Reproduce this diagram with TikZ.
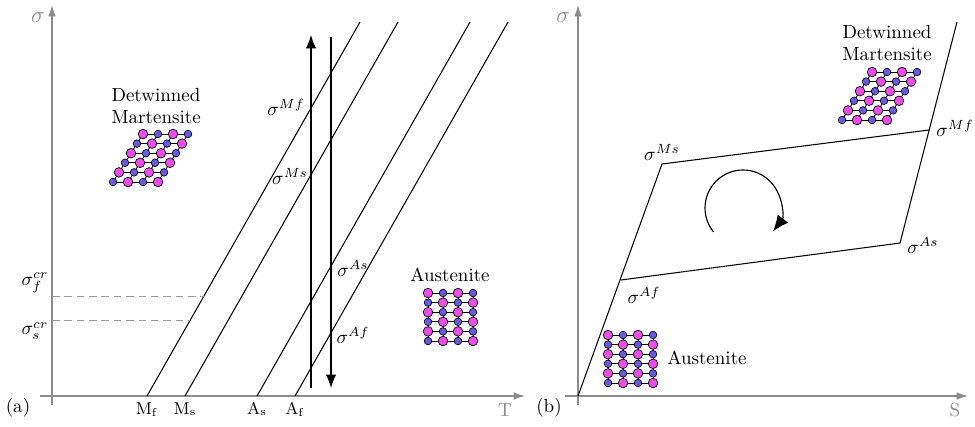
\documentclass[tikz,border=0pt]{standalone}
\usepackage{amsmath}
\usepackage{xcolor}
\definecolor{axisgray}{HTML}{8C8C8C}
\definecolor{crgray}{HTML}{999999}
\definecolor{atommag}{HTML}{E94FE6}
\definecolor{atomblue}{HTML}{6A5AE0}
\usepackage{tikz}
\usetikzlibrary{arrows.meta}
\tikzset{
  % 6x4 lattice of atoms, #1 = horizontal shift per row
  pics/lattice/.style={code={
    \foreach \j in {0,...,5} {
      \draw[bond] ({-#1*\j}, {9.6*\j}) -- ({45-#1*\j}, {9.6*\j});
    }
    \foreach \i in {0,...,3} {
      \draw[bond] ({15*\i}, 0) -- ({15*\i-5*#1}, 48);
    }
    \foreach \i in {0,...,3} {
      \foreach \j in {0,...,5} {
        \pgfmathtruncatemacro\pty{mod(\i+\j,2)}
        \ifnum\pty=0
          \filldraw[magatom] ({15*\i-#1*\j}, {9.6*\j}) circle (4.8);
        \else
          \filldraw[blueatom] ({15*\i-#1*\j}, {9.6*\j}) circle (3.8);
        \fi
      }
    }
  }}
}

\begin{document}
\begin{tikzpicture}[
  x=0.526pt, y=-0.526pt,
  axis/.style={-{Latex[length=6pt, width=4pt]}, axisgray, line width=0.55pt},
  axlabel/.style={text=axisgray},
  phase/.style={black, line width=0.55pt},
  crline/.style={crgray, dashed, line width=0.5pt, dash pattern=on 4pt off 2.5pt},
  load/.style={-{Latex[length=7pt, width=5.5pt]}, black, line width=0.75pt},
  bond/.style={black, line width=0.45pt},
  magatom/.style={fill=atommag, draw=black, line width=0.35pt},
  blueatom/.style={fill=atomblue, draw=black, line width=0.35pt},
  tick/.style={font=\small, anchor=base},
  every node/.style={inner sep=1pt}
]
\useasboundingbox (0,0) rectangle (975,426);

% ---------------- (a) stress--temperature ----------------
\coordinate (Ta0) at (40,396);
\coordinate (Ta1) at (525,396);
\coordinate (Sa0) at (52,405);
\coordinate (Sa1) at (52,5);
\draw[axis] (Ta0) -- (Ta1);
\draw[axis] (Sa0) -- (Sa1);
\node[axlabel, font=\large] (sigA) at (38,18) {$\sigma$};
\node[axlabel] (tempA) at (505,410) {T};
\node (capA) at (18,408) {(a)};

% transformation lines, all parallel
\foreach \xb/\nm/\lbl in {147/Mf/{M_f}, 185/Ms/{M_s}, 257/As/{A_s}, 295/Af/{A_f}} {
  \coordinate (\nm-b) at (\xb,396);
  \coordinate (\nm-t) at (\xb+213,22);
  \draw[phase] (\nm-b) -- (\nm-t);
  \node[tick] (\nm-lab) at (\xb,414) {$\mathrm{\lbl}$};
}

% critical stresses
\coordinate (crf-a) at (52,296);
\coordinate (crf-b) at (204,296);
\coordinate (crs-a) at (52,320);
\coordinate (crs-b) at (190,320);
\draw[crline] (crf-a) -- (crf-b);
\draw[crline] (crs-a) -- (crs-b);
\node (sigf) at (35,283) {$\sigma_f^{cr}$};
\node (sigs) at (35,331) {$\sigma_s^{cr}$};

% loading / unloading
\coordinate (up0) at (311,388);
\coordinate (up1) at (311,35);
\coordinate (dn0) at (331,37);
\coordinate (dn1) at (331,388);
\draw[load] (up0) -- (up1);
\draw[load] (dn0) -- (dn1);
\node (sMfA) at (286,107) {$\sigma^{Mf}$};
\node (sMsA) at (290,176) {$\sigma^{Ms}$};
\node (sAsA) at (353,268) {$\sigma^{As}$};
\node (sAfA) at (353,335) {$\sigma^{Af}$};

% phases
\node[align=center] (detA) at (156,106) {Detwinned\\Martensite};
\pic at (143,134) {lattice=6};
\node (ausA) at (450,275) {Austenite};
\pic at (428,293) {lattice=0};

% ---------------- (b) stress--strain ----------------
\coordinate (Tb0) at (565,396);
\coordinate (Tb1) at (968,396);
\coordinate (Sb0) at (578,405);
\coordinate (Sb1) at (578,5);
\draw[axis] (Tb0) -- (Tb1);
\draw[axis] (Sb0) -- (Sb1);
\node[axlabel, font=\large] (sigB) at (563,18) {$\sigma$};
\node[axlabel] (strB) at (955,410) {S};
\node (capB) at (549,408) {(b)};

% hysteresis loop
\coordinate (O) at (578,396);
\coordinate (pAf) at (621,280);
\coordinate (pMs) at (662,164);
\coordinate (pMf) at (929,130);
\coordinate (pAs) at (900,243);
\coordinate (pTop) at (957,22);
\draw[phase] (O) -- (pMs) -- (pMf);
\draw[phase] (pAf) -- (pAs) -- (pTop);
\node (sMsB) at (662,152) {$\sigma^{Ms}$};
\node (sMfB) at (955,128) {$\sigma^{Mf}$};
\node (sAsB) at (923,245) {$\sigma^{As}$};
\node (sAfB) at (644,295) {$\sigma^{Af}$};

% cycle direction
\draw[-{Latex[length=8.5pt, width=7pt]}, line width=0.6pt]
  (743,208) ++(141:38) arc[start angle=141, end angle=398, radius=38];

% phases
\node[align=center] (detB) at (887,43) {Detwinned\\Martensite};
\pic at (872,72) {lattice=6};
\node[anchor=west] (ausB) at (665,358) {Austenite};
\pic at (608,335) {lattice=0};

\end{tikzpicture}
\end{document}
